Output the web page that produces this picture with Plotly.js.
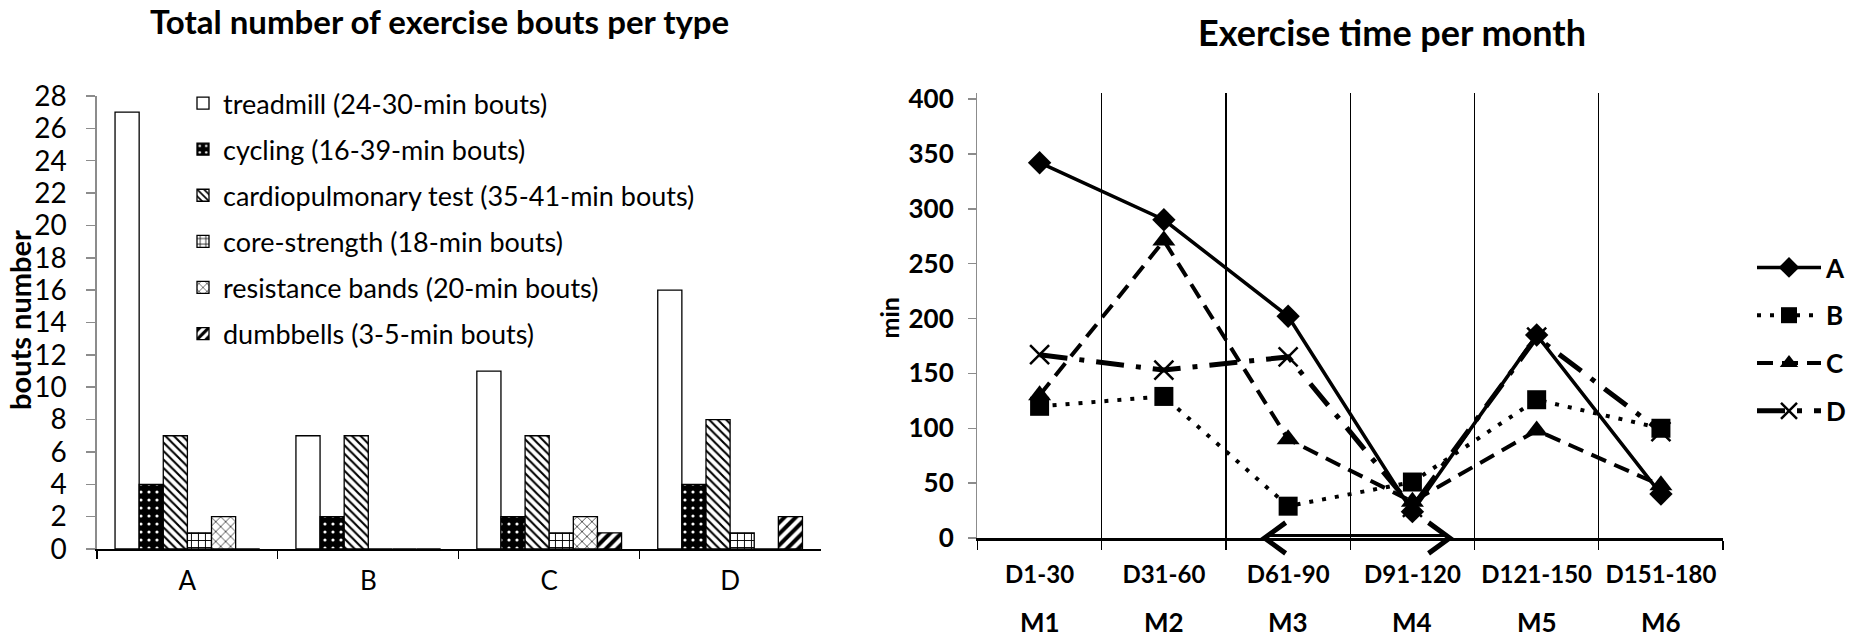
<!DOCTYPE html>
<html>
<head>
<meta charset="utf-8">
<script src="https://cdn.plot.ly/plotly-3.0.1.min.js"></script>
<style>
  html, body { margin: 0; padding: 0; background: #ffffff; }
  #chart { width: 1851px; height: 641px; }
</style>
</head>
<body>
<div id="chart"></div>
<script>
// left chart: bouts per exercise type
var subjects = ['A', 'B', 'C', 'D'];
var boutTypes = [
  'treadmill (24-30-min bouts)',
  'cycling (16-39-min bouts)',
  'cardiopulmonary test (35-41-min bouts)',
  'core-strength (18-min bouts)',
  'resistance bands (20-min bouts)',
  'dumbbells (3-5-min bouts)'
];
var treadmill = [27, 7, 11, 16];
var cycling = [4, 2, 2, 4];
var cardio = [7, 7, 7, 8];
var coreStrength = [1, 0, 1, 1];
var resistance = [2, 0, 2, 0];
var dumbbells = [0, 0, 1, 2];

// right chart: exercise time per month
var periods = ['D1-30', 'D31-60', 'D61-90', 'D91-120', 'D121-150', 'D151-180'];
var months = ['M1', 'M2', 'M3', 'M4', 'M5', 'M6'];
var timeA = [342, 290, 202, 24, 185, 40];
var timeB = [120, 129, 29, 51, 126, 100];
var timeC = [130, 271, 90, 33, 98, 48];
var timeD = [167, 153, 165, 28, 183, 97];

var W = 1851, H = 641;
function px(x) { return x / W; }
function py(y) { return (H - y) / H; }

var FONT = 'Lato, "Open Sans", sans-serif';

var patterns = [
  { shape: '' },
  { shape: '.', bgcolor: '#000000', fgcolor: '#ffffff', size: 8, solidity: 0.12 },
  { shape: '\\', bgcolor: '#ffffff', fgcolor: '#000000', size: 6, solidity: 0.35 },
  { shape: '+', bgcolor: '#ffffff', fgcolor: '#000000', size: 7, solidity: 0.25 },
  { shape: 'x', bgcolor: '#ffffff', fgcolor: '#333333', size: 7, solidity: 0.22 },
  { shape: '/', bgcolor: '#ffffff', fgcolor: '#000000', size: 8, solidity: 0.5 }
];
var barValues = [treadmill, cycling, cardio, coreStrength, resistance, dumbbells];

var data = barValues.map(function (vals, i) {
  return {
    type: 'bar',
    x: subjects,
    y: vals,
    name: boutTypes[i],
    xaxis: 'x',
    yaxis: 'y',
    legend: 'legend',
    legendgroup: 'g' + i,
    marker: {
      color: '#ffffff',
      line: { color: '#000000', width: 1.3 },
      pattern: patterns[i]
    }
  };
});

var lineSeries = [
  { name: 'A', y: timeA, dash: 'solid', width: 3.5, symbol: 'diamond', size: 18 },
  { name: 'B', y: timeB, dash: '4px,9px', width: 4, symbol: 'square', size: 19 },
  { name: 'C', y: timeC, dash: '16px,9px', width: 4, symbol: 'triangle-up', size: 20 },
  { name: 'D', y: timeD, dash: '28px,12px,5px,12px', width: 5, symbol: 'x-thin-open', size: 19 }
];

lineSeries.forEach(function (s, i) {
  data.push({
    type: 'scatter',
    mode: 'lines+markers',
    x: periods.map(function (p, k) { return k; }),
    y: s.y,
    name: s.name,
    xaxis: 'x2',
    yaxis: 'y2',
    legend: 'legend2',
    legendgroup: 'l' + i,
    cliponaxis: false,
    line: { color: '#000000', width: s.width, dash: s.dash },
    marker: {
      symbol: s.symbol,
      size: s.size,
      color: '#000000',
      line: { color: '#000000', width: s.symbol === 'x-thin-open' ? 2.5 : 0 }
    }
  });
});

var boldFont = { family: FONT, size: 24, color: '#000000', weight: 700 };

function label(text, x, y, size, weight, extra) {
  var a = {
    text: text, xref: 'paper', yref: 'paper', x: x, y: y,
    xanchor: 'center', yanchor: 'middle', showarrow: false,
    font: { family: FONT, size: size, weight: weight, color: '#000000' }
  };
  for (var k in extra) a[k] = extra[k];
  return a;
}

var annotations = [
  label('Total number of exercise bouts per type', px(440), py(21), 33, 700),
  label('Exercise time per month', px(1393), py(32), 36, 700),
  label('bouts number', px(19), py(320), 29, 700, { textangle: -90 }),
  label('min', px(889), py(318), 25, 700, { textangle: -90 })
];
months.forEach(function (m, k) {
  annotations.push(label(m, k, py(622), 26, 700, { xref: 'x2' }));
});

// double arrow on the time axis (M3 to M4)
var axisY = py(538);
var headW = 0.17, headH = 0.024;
var arrowL = 1.81, arrowR = 3.3;
var shapes = [
  {
    type: 'line', xref: 'x2', yref: 'paper',
    x0: arrowL + 0.02, x1: arrowR - 0.02, y0: axisY + 0.004, y1: axisY + 0.004,
    line: { color: '#000000', width: 3 }
  },
  {
    type: 'path', xref: 'x2', yref: 'paper',
    path: 'M' + (arrowL + headW) + ',' + (axisY + headH) + ' L' + arrowL + ',' + axisY +
          ' L' + (arrowL + headW) + ',' + (axisY - headH),
    line: { color: '#000000', width: 5 }
  },
  {
    type: 'path', xref: 'x2', yref: 'paper',
    path: 'M' + (arrowR - headW) + ',' + (axisY + headH) + ' L' + arrowR + ',' + axisY +
          ' L' + (arrowR - headW) + ',' + (axisY - headH),
    line: { color: '#000000', width: 5 }
  }
];

var layout = {
  width: W,
  height: H,
  margin: { l: 0, r: 0, t: 0, b: 0 },
  paper_bgcolor: '#ffffff',
  plot_bgcolor: '#ffffff',
  font: { family: FONT, color: '#000000' },
  barmode: 'group',
  bargap: 0.2,
  bargroupgap: 0,
  xaxis: {
    domain: [px(97), px(821)],
    anchor: 'y',
    type: 'category',
    showline: true, linecolor: '#000000', linewidth: 2,
    ticks: 'outside', tickson: 'boundaries', ticklen: 8, tickcolor: '#000000', tickwidth: 1.3,
    tickfont: { family: FONT, size: 26, color: '#000000' },
    ticklabelstandoff: 8,
    showgrid: false, zeroline: false
  },
  yaxis: {
    domain: [py(549), py(96)],
    anchor: 'x',
    range: [0, 28],
    dtick: 2,
    showline: true, linecolor: '#8c8c8c', linewidth: 1.5,
    ticks: 'outside', ticklen: 9, tickcolor: '#8c8c8c', tickwidth: 1.5,
    tickfont: { family: FONT, size: 28, color: '#000000' },
    ticklabelstandoff: 14,
    showgrid: false, zeroline: false
  },
  xaxis2: {
    domain: [px(978), px(1724)],
    anchor: 'y2',
    range: [-0.5, 5.5],
    tickmode: 'array',
    tickvals: periods.map(function (p, k) { return k; }),
    ticktext: periods,
    ticks: '',
    tickfont: boldFont,
    ticklabelstandoff: 14,
    showline: true, linecolor: '#000000', linewidth: 2.5,
    showgrid: false, zeroline: false,
    minor: {
      tickmode: 'linear', tick0: 0.5, dtick: 1,
      showgrid: true, gridcolor: '#000000', gridwidth: 1.3,
      ticks: 'outside', ticklen: 9, tickcolor: '#000000', tickwidth: 1.3
    }
  },
  yaxis2: {
    domain: [py(538), py(93)],
    anchor: 'x2',
    range: [0, 405.5],
    tick0: 0, dtick: 50,
    showline: true, linecolor: '#8c8c8c', linewidth: 1.5,
    ticks: 'outside', ticklen: 8, tickcolor: '#8c8c8c', tickwidth: 1.5,
    tickfont: { family: FONT, size: 26, color: '#000000', weight: 700 },
    ticklabelstandoff: 9,
    showgrid: false, zeroline: false
  },
  legend: {
    x: px(183), y: py(79), xanchor: 'left', yanchor: 'top',
    bgcolor: 'rgba(0,0,0,0)',
    font: { family: FONT, size: 27, color: '#000000' },
    tracegroupgap: 8
  },
  legend2: {
    x: px(1753), y: py(244), xanchor: 'left', yanchor: 'top',
    bgcolor: 'rgba(0,0,0,0)',
    itemwidth: 64,
    font: { family: FONT, size: 26, color: '#000000', weight: 700 },
    tracegroupgap: 11
  },
  showlegend: true,
  annotations: annotations,
  shapes: shapes
};

Plotly.newPlot('chart', data, layout, { displayModeBar: false, staticPlot: true });
</script>
</body>
</html>
